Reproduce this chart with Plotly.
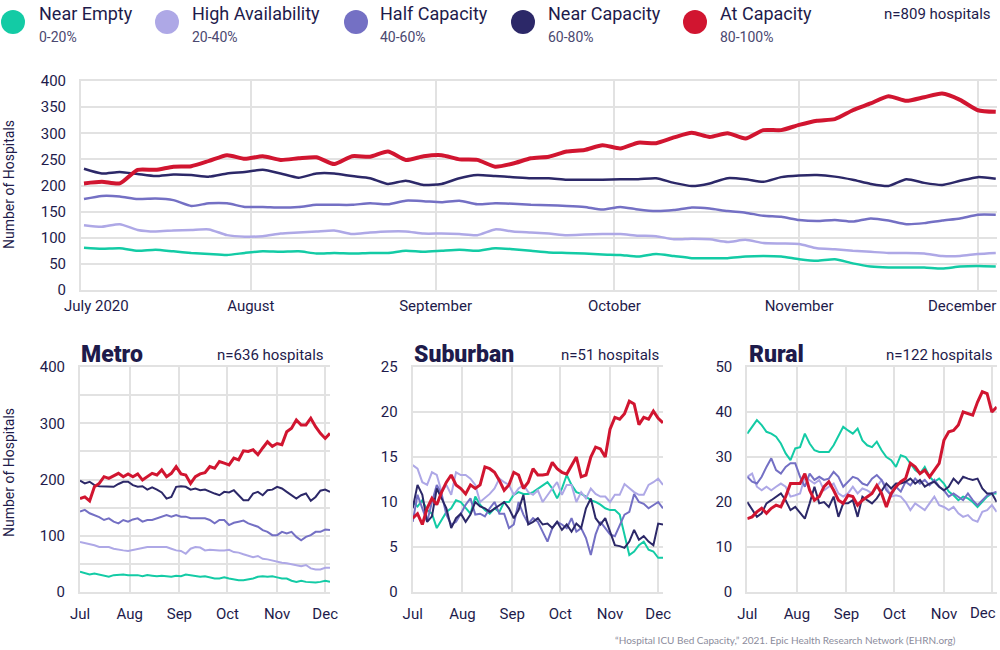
import pandas as pd
import plotly.graph_objects as go

# ---------------- data ----------------
TOP_DATES = pd.date_range("2020-07-04", periods=52, freq="3D")
SMALL_DATES = pd.date_range("2020-07-01", periods=53, freq="3D")

SERIES = ["Near Empty", "High Availability", "Half Capacity", "Near Capacity", "At Capacity"]
RANGES = ["0-20%", "20-40%", "40-60%", "60-80%", "80-100%"]
COLORS = ["#13cba5", "#aea8e6", "#7470c4", "#2c2868", "#d11530"]

# All hospitals (n=809)
all_near_empty = [81, 79, 80, 75, 77, 74, 71, 69, 67, 71, 74, 73, 74, 70, 71, 70, 71, 71, 75, 73, 75, 77, 75, 80,
                  78, 75, 72, 71, 70, 68, 67, 64, 69, 65, 61, 61, 61, 64, 65, 64, 59, 56, 59, 51, 45, 43, 43, 43,
                  41, 45, 46, 45]
all_high_avail = [124, 121, 126, 115, 112, 114, 115, 116, 105, 102, 103, 108, 110, 112, 114, 107, 110, 112, 112,
                  108, 108, 107, 105, 116, 112, 110, 108, 105, 106, 107, 107, 104, 103, 97, 98, 97, 92, 96, 90, 89,
                  88, 80, 78, 75, 73, 71, 71, 70, 65, 65, 69, 71]
all_half_cap = [174, 180, 179, 174, 175, 172, 161, 166, 166, 159, 159, 158, 159, 163, 163, 163, 166, 164, 171, 170,
                168, 171, 164, 166, 165, 163, 162, 161, 159, 154, 159, 154, 151, 153, 158, 156, 151, 148, 142, 140,
                134, 132, 134, 131, 137, 133, 126, 128, 133, 137, 144, 144]
all_near_cap = [232, 223, 226, 222, 218, 221, 220, 217, 223, 226, 230, 223, 215, 223, 223, 218, 214, 203, 209, 201,
                203, 214, 220, 218, 216, 214, 214, 211, 211, 211, 212, 212, 214, 205, 199, 204, 214, 212, 207, 216,
                219, 220, 217, 211, 203, 199, 212, 205, 201, 209, 216, 213]
all_at_cap = [204, 207, 204, 230, 230, 236, 237, 247, 258, 251, 256, 249, 252, 254, 241, 256, 255, 265, 249, 256,
              258, 250, 249, 236, 242, 252, 255, 265, 268, 277, 271, 282, 281, 292, 301, 293, 300, 290, 306, 306,
              316, 324, 327, 344, 357, 371, 362, 369, 376, 364, 344, 341]

# Metro (n=636)
metro_near_empty = [36, 33, 31, 33, 31, 30, 27, 30, 31, 31, 30, 30, 30, 28, 30, 29, 28, 29, 28, 27, 29, 28, 31, 30,
                    29, 27, 28, 26, 24, 24, 26, 24, 22, 21, 21, 22, 24, 27, 28, 27, 28, 26, 24, 24, 20, 18, 20, 18,
                    17, 17, 18, 20, 18]
metro_high_avail = [89, 87, 86, 83, 80, 80, 80, 77, 75, 74, 73, 75, 77, 79, 80, 80, 80, 79, 80, 77, 74, 73, 68, 77,
                    80, 79, 74, 75, 74, 74, 74, 75, 71, 70, 67, 65, 62, 64, 59, 58, 56, 53, 52, 51, 49, 48, 46, 48,
                    42, 40, 40, 43, 43]
metro_half_cap = [143, 146, 140, 137, 133, 128, 131, 125, 122, 128, 125, 129, 131, 125, 128, 128, 131, 135, 137, 134,
                  137, 134, 134, 131, 131, 131, 131, 128, 122, 128, 128, 119, 123, 125, 127, 122, 119, 116, 110, 107,
                  101, 101, 107, 104, 107, 98, 92, 98, 101, 107, 107, 111, 110]
metro_near_cap = [198, 193, 196, 190, 188, 188, 187, 187, 192, 196, 196, 190, 187, 188, 182, 186, 182, 177, 166, 169,
                  187, 188, 187, 182, 184, 181, 182, 178, 175, 172, 178, 177, 181, 172, 163, 163, 175, 178, 172, 181,
                  182, 187, 184, 178, 172, 166, 172, 175, 162, 169, 180, 182, 178]
metro_at_cap = [166, 169, 162, 187, 193, 205, 202, 206, 211, 205, 210, 205, 210, 199, 205, 211, 208, 217, 205, 211,
                223, 210, 208, 193, 205, 210, 212, 223, 220, 232, 229, 226, 238, 235, 251, 250, 253, 244, 256, 267,
                259, 264, 262, 285, 291, 306, 297, 297, 309, 294, 282, 273, 282]

# Suburban (n=51)
sub_near_empty = [10.0, 9.5, 10.2, 9.1, 8.7, 7.1, 8.0, 8.9, 9.3, 10.2, 10.0, 9.3, 8.7, 10.6, 9.7, 9.1, 8.7, 9.3, 8.9,
                  10.0, 10.0, 10.8, 11.1, 10.9, 10.9, 11.1, 11.5, 11.9, 12.2, 11.5, 10.4, 11.5, 13.0, 11.9, 11.1,
                  10.9, 10.6, 10.2, 10.0, 9.7, 9.3, 9.1, 9.1, 8.6, 6.4, 4.1, 4.5, 5.2, 5.6, 4.7, 4.5, 3.8, 3.8]
sub_high_avail = [14.1, 13.7, 12.2, 11.9, 13.3, 13.0, 11.1, 11.9, 10.8, 13.3, 13.0, 13.0, 12.6, 11.9, 10.0, 10.4,
                  10.9, 11.5, 12.6, 12.2, 11.9, 10.8, 11.5, 11.9, 11.1, 10.8, 11.3, 10.0, 10.8, 11.5, 12.2, 10.8,
                  11.9, 11.9, 10.0, 11.1, 10.4, 11.5, 10.9, 10.6, 10.6, 10.0, 10.8, 10.8, 12.0, 11.5, 11.1, 10.8,
                  10.8, 11.9, 12.2, 12.6, 11.9]
sub_half_cap = [7.8, 10.8, 9.3, 7.8, 10.0, 11.9, 10.9, 8.6, 7.5, 7.8, 8.7, 9.7, 10.4, 8.6, 8.7, 8.4, 9.3, 10.0, 8.7,
                8.7, 7.1, 7.5, 10.0, 8.6, 7.6, 8.2, 7.8, 6.7, 5.6, 7.1, 7.8, 7.5, 7.1, 8.2, 6.7, 7.1, 6.0, 4.1, 6.4,
                7.8, 7.1, 6.4, 6.2, 7.5, 8.6, 8.9, 10.9, 10.0, 9.8, 9.3, 9.7, 10.0, 9.3]
sub_near_cap = [9.3, 11.9, 10.8, 7.8, 8.4, 11.5, 10.4, 9.3, 7.1, 8.2, 8.7, 7.8, 8.6, 10.0, 9.5, 9.3, 8.9, 9.3, 9.7,
                10.0, 9.3, 8.2, 9.1, 10.8, 7.5, 7.8, 8.2, 7.5, 7.6, 7.1, 7.8, 6.9, 7.5, 6.7, 7.6, 7.1, 9.3, 10.4, 8.2,
                7.5, 8.2, 6.7, 5.2, 5.1, 4.9, 5.6, 6.9, 5.8, 6.2, 5.6, 5.2, 7.6, 7.5]
sub_at_cap = [8.2, 8.7, 7.5, 9.3, 10.4, 9.7, 11.1, 12.2, 13.0, 11.9, 11.5, 10.9, 11.9, 11.5, 11.9, 13.9, 13.7, 13.3,
              12.4, 11.3, 11.9, 13.3, 13.0, 11.5, 12.2, 13.7, 13.0, 13.0, 13.1, 14.4, 13.7, 13.3, 13.1, 14.1, 15.0,
              12.8, 13.0, 15.0, 16.1, 15.9, 15.0, 18.1, 19.4, 19.2, 19.8, 21.2, 20.9, 18.6, 19.4, 19.2, 20.1, 19.3,
              18.8]

# Rural (n=122)
rur_near_empty = [35.2, 36.7, 38.2, 37.1, 35.6, 35.2, 34.5, 33.0, 30.8, 29.3, 31.9, 32.2, 35.2, 33.0, 31.5, 31.1,
                  31.1, 31.1, 32.6, 34.5, 36.7, 35.9, 35.2, 36.3, 33.7, 32.6, 32.2, 33.4, 31.5, 30.0, 29.3, 27.8,
                  30.4, 30.0, 28.6, 27.1, 26.3, 27.8, 25.6, 24.5, 25.2, 24.1, 22.3, 21.5, 20.4, 21.2, 20.8, 20.0,
                  18.9, 20.0, 21.2, 21.9, 21.9]
rur_high_avail = [25.6, 26.3, 23.4, 22.6, 23.4, 22.6, 23.4, 24.1, 23.4, 21.2, 21.5, 21.9, 25.6, 24.9, 24.1, 24.9,
                  22.6, 23.4, 24.1, 21.9, 21.2, 21.9, 23.4, 21.9, 23.0, 22.6, 21.9, 23.4, 24.9, 23.4, 21.2, 21.5,
                  21.2, 20.0, 18.2, 19.7, 18.9, 18.2, 19.7, 21.2, 19.3, 18.9, 18.2, 18.9, 17.5, 16.7, 17.1, 16.0,
                  15.6, 17.8, 18.2, 19.3, 17.8]
rur_half_cap = [25.6, 24.5, 24.1, 25.6, 27.8, 29.7, 27.1, 26.3, 27.8, 28.6, 28.6, 25.6, 23.4, 26.3, 24.9, 25.6, 24.9,
                25.2, 26.7, 25.6, 23.4, 24.5, 25.6, 25.2, 24.1, 23.7, 25.2, 26.0, 24.9, 22.6, 21.5, 23.4, 22.3, 24.5,
                23.7, 25.2, 24.1, 24.9, 23.7, 24.9, 23.4, 22.6, 21.2, 21.9, 21.2, 20.4, 21.9, 20.4, 19.3, 20.4, 21.5,
                21.9, 22.3]
rur_near_cap = [20.0, 18.2, 16.7, 17.5, 19.7, 20.4, 21.2, 21.9, 20.4, 18.2, 18.9, 17.5, 16.3, 19.7, 23.4, 19.7, 20.0,
                18.9, 21.2, 16.7, 19.7, 19.7, 20.4, 16.7, 21.2, 20.4, 19.7, 20.8, 22.6, 24.1, 23.0, 24.1, 24.1, 24.5,
                25.2, 24.1, 24.9, 23.4, 24.1, 24.5, 23.4, 22.6, 23.4, 25.2, 24.1, 25.6, 25.2, 24.9, 25.2, 23.0, 21.9,
                21.9, 20.0]
rur_at_cap = [16.3, 16.7, 17.8, 18.6, 17.5, 18.6, 19.3, 18.9, 21.2, 24.1, 24.1, 24.1, 26.3, 22.6, 20.4, 21.2, 23.4,
              24.5, 22.6, 20.4, 19.7, 21.5, 21.2, 19.3, 20.4, 21.2, 21.9, 23.7, 21.9, 18.9, 21.9, 23.4, 24.5, 25.2,
              28.6, 27.8, 26.3, 27.1, 25.6, 27.1, 28.6, 33.7, 35.6, 35.9, 37.1, 40.0, 39.6, 39.3, 42.2, 44.5, 44.1,
              40.0, 41.1]

ALL = [all_near_empty, all_high_avail, all_half_cap, all_near_cap, all_at_cap]
METRO = [metro_near_empty, metro_high_avail, metro_half_cap, metro_near_cap, metro_at_cap]
SUB = [sub_near_empty, sub_high_avail, sub_half_cap, sub_near_cap, sub_at_cap]
RUR = [rur_near_empty, rur_high_avail, rur_half_cap, rur_near_cap, rur_at_cap]

MONTH_TICKS = ["2020-07-01", "2020-08-01", "2020-09-01", "2020-10-01", "2020-11-01", "2020-12-01"]
MONTH_SHORT = ["Jul", "Aug", "Sep", "Oct", "Nov", "Dec"]
TOP_TICKS = ["2020-07-03 12:00", "2020-08-01", "2020-09-01", "2020-10-01", "2020-11-01", "2020-12-01"]
TOP_TEXT = ["", "August", "September", "October", "November", ""]

# ---------------- styling ----------------
W, H = 1000, 650
FONT = "Roboto"
INK = "#1e1b4b"
GRID = "#e2e2e2"


def py(pxy):
    return 1 - pxy / H


fig = go.Figure()

for vals, col, name in zip(ALL, COLORS, SERIES):
    fig.add_trace(go.Scatter(
        x=TOP_DATES, y=vals, mode="lines", name=name, showlegend=False,
        line=dict(color=col, width=4 if name == "At Capacity" else 2.5, shape="spline", smoothing=0.6),
        xaxis="x", yaxis="y", hoverinfo="x+y"))

for k, group in enumerate([METRO, SUB, RUR], start=2):
    for vals, col, name in zip(group, COLORS, SERIES):
        fig.add_trace(go.Scatter(
            x=SMALL_DATES, y=vals, mode="lines", name=name, showlegend=False,
            line=dict(color=col, width=3 if name == "At Capacity" else 2),
            xaxis=f"x{k}", yaxis=f"y{k}", hoverinfo="x+y"))

tickfont = dict(family=FONT, size=15, color=INK)

layout = dict(
    width=W, height=H,
    margin=dict(l=0, r=0, t=0, b=0, pad=0, autoexpand=False),
    paper_bgcolor="white", plot_bgcolor="white",
    font=dict(family=FONT, color=INK),
    showlegend=False,
)

# top chart axes
layout["xaxis"] = dict(
    domain=[0.081, 0.997], anchor="y",
    range=["2020-07-03 12:00", "2020-12-04 05:00"],
    tickmode="array", tickvals=TOP_TICKS, ticktext=TOP_TEXT,
    showgrid=True, gridcolor=GRID, gridwidth=2, zeroline=False,
    showline=True, linecolor=GRID, linewidth=2, mirror=True,
    ticks="outside", ticklen=1, tickcolor="rgba(0,0,0,0)", tickfont=tickfont,
)
layout["yaxis"] = dict(
    domain=[py(290), py(81)], anchor="x", range=[0, 400], dtick=50,
    showgrid=True, gridcolor=GRID, gridwidth=2, zeroline=False,
    showline=True, linecolor=GRID, linewidth=2,
    ticks="outside", ticklen=10, tickcolor="rgba(0,0,0,0)", tickfont=tickfont,
)

small_specs = [
    (2, [0.080, 0.330], [0, 400], [0, 100, 200, 300, 400], 50, MONTH_SHORT),
    (3, [0.4127, 0.663], [0, 25], [0, 5, 10, 15, 20, 25], 5, MONTH_SHORT),
    (4, [0.7473, 0.9967], [0, 50], [0, 10, 20, 30, 40, 50], 10, MONTH_SHORT[:-1] + [""]),
]
for k, dom, yr, yticks, minor, mtext in small_specs:
    layout[f"xaxis{k}"] = dict(
        domain=dom, anchor=f"y{k}", range=["2020-07-01", "2020-12-04"],
        tickmode="array", tickvals=MONTH_TICKS, ticktext=mtext,
        showgrid=True, gridcolor=GRID, gridwidth=2, zeroline=False,
        showline=True, linecolor=GRID, linewidth=2, mirror=True,
        ticks="outside", ticklen=7, tickcolor="rgba(0,0,0,0)", tickfont=tickfont,
    )
    layout[f"yaxis{k}"] = dict(
        domain=[py(592), py(367)], anchor=f"x{k}", range=yr,
        tickmode="array", tickvals=yticks,
        showgrid=True, gridcolor=GRID, gridwidth=2, zeroline=False,
        showline=True, linecolor=GRID, linewidth=2,
        minor=dict(dtick=minor, showgrid=True, gridcolor=GRID, gridwidth=2),
        ticks="outside", ticklen=10, tickcolor="rgba(0,0,0,0)", tickfont=tickfont,
    )

fig.update_layout(**layout)

annotations = []
shapes = []


def ann(text, xpx, ypx, size, color=INK, xanchor="left", angle=0, family=FONT, weight=400):
    annotations.append(dict(
        text=text, x=xpx / W, y=py(ypx), xref="paper", yref="paper",
        xanchor=xanchor, yanchor="middle", showarrow=False, textangle=angle,
        font=dict(family=family, size=size, color=color, weight=weight)))


# legend
circle_x = [13, 167, 356, 523, 695]
text_x = [37, 190, 378, 546, 718]
for cx, tx, name, rng, col in zip(circle_x, text_x, SERIES, RANGES, COLORS):
    shapes.append(dict(type="circle", xref="paper", yref="paper",
                       x0=(cx - 12) / W, x1=(cx + 12) / W, y0=py(22 + 12), y1=py(22 - 12),
                       fillcolor=col, line=dict(width=0)))
    ann(name, tx, 13, 18)
    ann(rng, tx, 37, 14, color="#4b4870")
ann("n=809 hospitals", 993, 14, 15, xanchor="right")

# top chart labels
ann("Number of Hospitals", 9, 185, 14, xanchor="center", angle=-90)
ann("July 2020", 96, 306, 15, xanchor="center")
ann("December", 962, 306, 15, xanchor="center")

# small chart titles
ann("Metro", 79, 354, 23, weight=900)
ann("Suburban", 412, 354, 23, weight=900)
ann("Rural", 747, 354, 23, weight=900)
ann("n=636 hospitals", 326, 355, 15, xanchor="right")
ann("n=51 hospitals", 661, 355, 15, xanchor="right")
ann("n=122 hospitals", 995, 355, 15, xanchor="right")
ann("Number of Hospitals", 9, 473, 14, xanchor="center", angle=-90)
ann("Dec", 983, 613, 15, xanchor="center")

# source
ann("\u201cHospital ICU Bed Capacity,\u201d 2021. Epic Health Research Network (EHRN.org)", 958, 640, 10,
    color="#8c8c9c", xanchor="right", family="Lato")

fig.update_layout(annotations=annotations, shapes=shapes)

fig.write_html("out.html")
